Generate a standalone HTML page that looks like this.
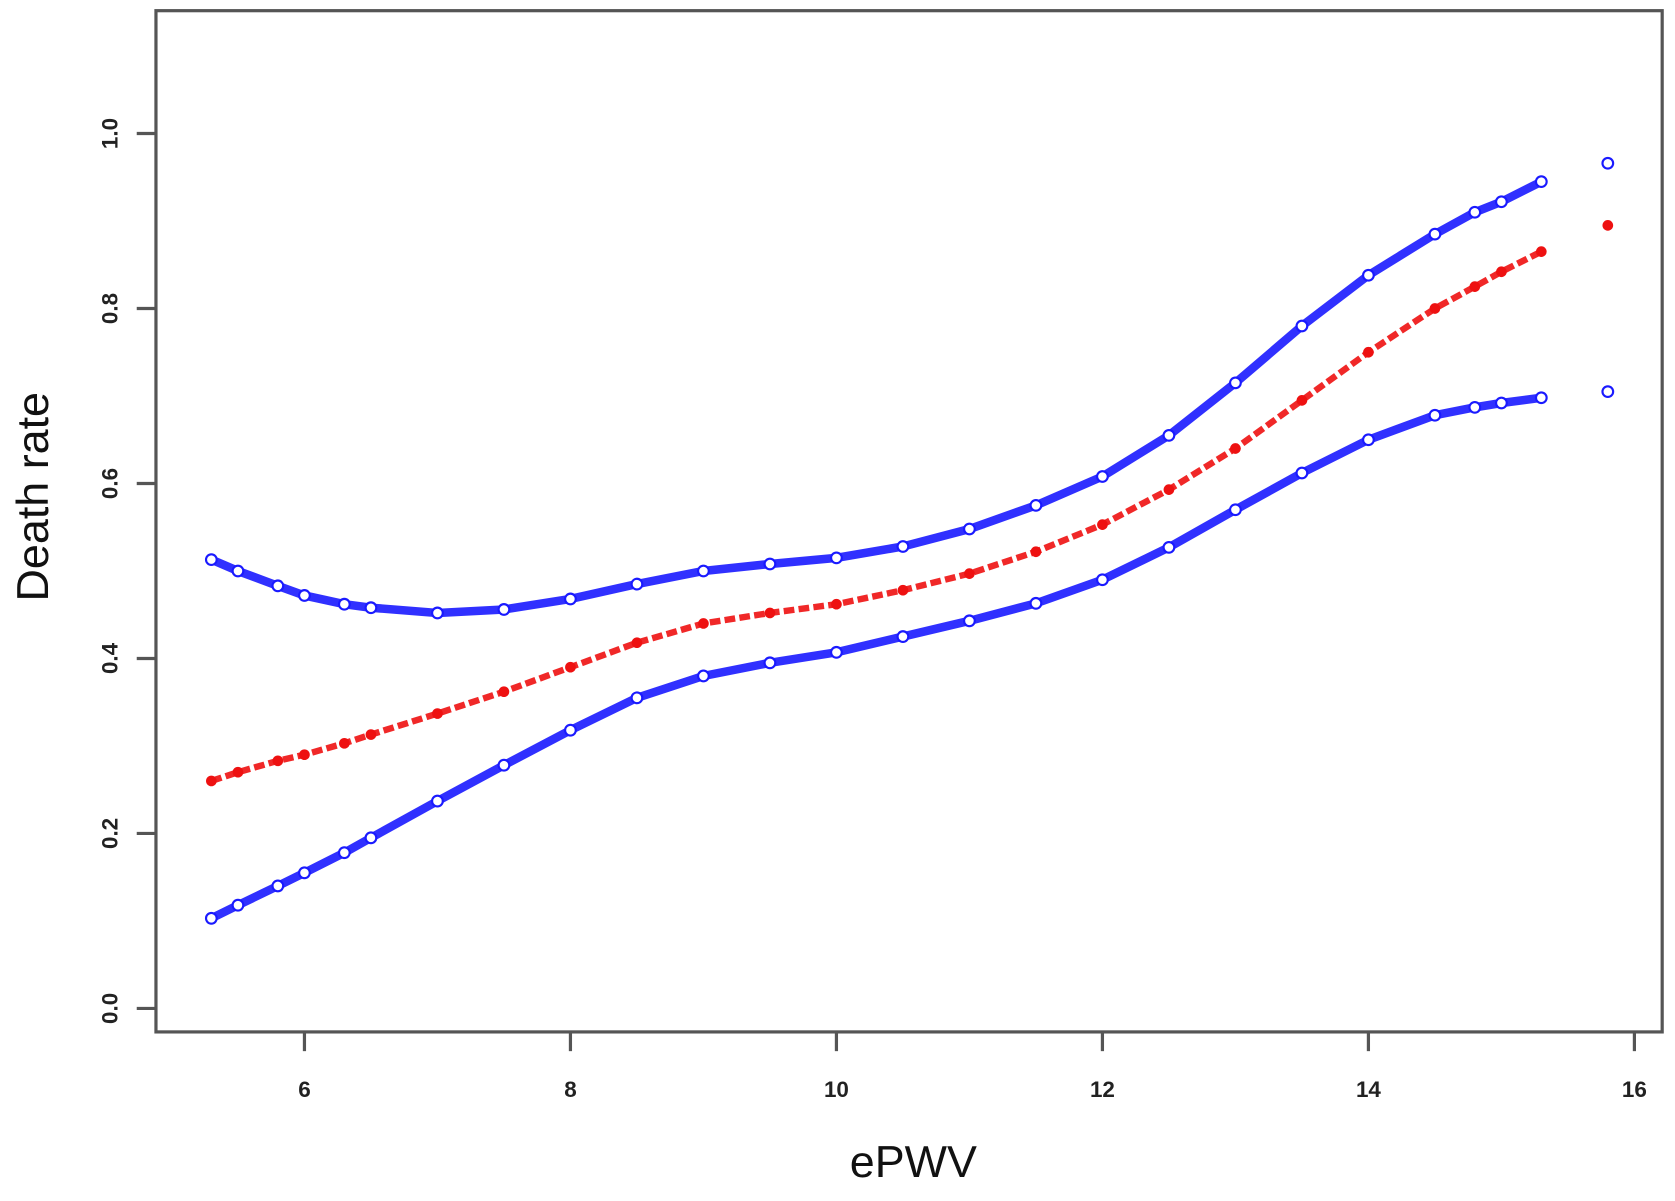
<!DOCTYPE html>
<html><head><meta charset="utf-8"><style>
body{margin:0;background:#fff;}
text{font-family:"Liberation Sans",sans-serif;}
</style></head><body>
<svg id="chart" width="1675" height="1196" viewBox="0 0 1568 1119.6" preserveAspectRatio="none" xmlns="http://www.w3.org/2000/svg">
<rect x="146" y="10" width="1410" height="956" fill="none" stroke="#555" stroke-width="3"/>
<g id="xt"></g>
<g id="yt"></g>
<text x="855" y="1102" font-size="42" text-anchor="middle" fill="#111">ePWV</text>
<text transform="translate(45,465) rotate(-90)" font-size="42" text-anchor="middle" fill="#111">Death rate</text>
<g id="series"></g>
</svg>
<script>
const xTicks=[6,8,10,12,14,16];
const yTicks=[0.0,0.2,0.4,0.6,0.8,1.0];
const yTickLabels=["0.0","0.2","0.4","0.6","0.8","1.0"];
const xVals=[5.3,5.5,5.8,6,6.3,6.5,7,7.5,8,8.5,9,9.5,10,10.5,11,11.5,12,12.5,13,13.5,14,14.5,14.8,15,15.3,15.8];
const upper=[0.513,0.500,0.483,0.472,0.462,0.458,0.452,0.456,0.468,0.485,0.500,0.508,0.515,0.528,0.548,0.575,0.608,0.655,0.715,0.780,0.838,0.885,0.910,0.922,0.945,0.966];
const mid=[0.260,0.270,0.283,0.290,0.303,0.313,0.337,0.362,0.390,0.418,0.440,0.452,0.462,0.478,0.497,0.522,0.553,0.593,0.640,0.695,0.750,0.800,0.825,0.842,0.865,0.895];
const lower=[0.103,0.118,0.140,0.155,0.178,0.195,0.237,0.278,0.318,0.355,0.380,0.395,0.407,0.425,0.443,0.463,0.490,0.527,0.570,0.612,0.650,0.678,0.687,0.692,0.698,0.705];
const NS="http://www.w3.org/2000/svg";
const sx=v=>285+(v-6)*124.5;
const sy=v=>944-v*819;
function mk(t,a,p){const e=document.createElementNS(NS,t);for(const k in a)e.setAttribute(k,a[k]);p.appendChild(e);return e;}
const xt=document.getElementById('xt'),yt=document.getElementById('yt'),sg=document.getElementById('series');
xTicks.forEach(v=>{
  const l=mk('line',{x1:sx(v),x2:sx(v),y1:966,y2:984,stroke:'#555','stroke-width':3},xt);
  
  
  const t=mk('text',{x:sx(v),y:1027,'font-size':21,'font-weight':'bold','text-anchor':'middle',fill:'#222'},xt);
  t.textContent=String(v);
  
  
});
yTicks.forEach((v,i)=>{
  const l=mk('line',{x1:128,x2:146,y1:sy(v),y2:sy(v),stroke:'#555','stroke-width':3},yt);
  
  
  const t=mk('text',{transform:`translate(110,${sy(v)}) rotate(-90)`,'font-size':21,'font-weight':'bold','text-anchor':'middle',fill:'#222'},yt);
  t.textContent=yTickLabels[i];
  
  
});
function draw(vals,color,filled,name){
  const n=vals.length-1;
  const pts=vals.slice(0,n).map((v,i)=>sx(xVals[i])+','+sy(v)).join(' ');
  const pl=mk('polyline',{points:pts,fill:'none',stroke:color,'stroke-width':filled?6:8,'stroke-opacity':0.9,'stroke-dasharray':filled?'10 4':'none'},sg);
  
  
  vals.forEach((v,i)=>{
    const c=mk('circle',{cx:sx(xVals[i]),cy:sy(v),r:filled?4:5,fill:filled?color:'#fff',stroke:color,'stroke-width':2},sg);
    
    
  });
}
draw(upper,'#1a1aff',false,'upper-ci');
draw(lower,'#1a1aff',false,'lower-ci');
draw(mid,'#ee1111',true,'estimate');
</script>
</body></html>
